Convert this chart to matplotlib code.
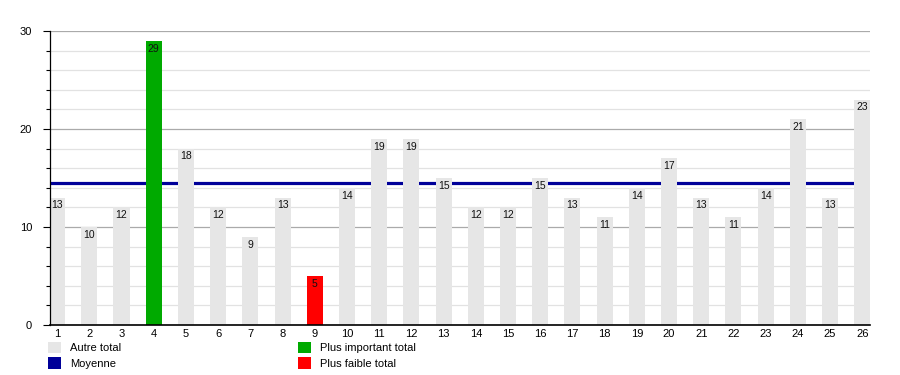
import numpy as np
import matplotlib
matplotlib.use("Agg")
import matplotlib.pyplot as plt
from matplotlib.patches import Patch
from matplotlib.ticker import MultipleLocator

# ── Data ──────────────────────────────────────────────────────────────────────
categories = list(range(1, 27))
totals = [13, 10, 12, 29, 18, 12, 9, 13, 5, 14, 19, 19, 15, 12, 12, 15, 13, 11,
          14, 17, 13, 11, 14, 21, 13, 23]
legend_labels = ["Autre total", "Moyenne", "Plus important total", "Plus faible total"]

GRAY  = "#e6e6e6"
GREEN = "#00aa00"
RED   = "#ff0000"
NAVY  = "#000099"

plt.rcParams.update({
    "font.family": "Liberation Sans",
    "font.size":   8,
})

mean_val = np.mean(totals)
imax = int(np.argmax(totals))
imin = int(np.argmin(totals))
colors = [GRAY] * len(totals)
colors[imax] = GREEN
colors[imin] = RED

fig = plt.figure(figsize=(9, 3.75), dpi=100)
ax = fig.add_axes([0.0556, 0.1333, 0.9114, 0.7837])

ax.set_ylim(0, 30)
ax.set_xlim(0.78, 26.25)
ax.yaxis.set_major_locator(MultipleLocator(10))
ax.yaxis.set_minor_locator(MultipleLocator(2))
ax.grid(which="major", axis="y", color="#aaaaaa", lw=0.9, zorder=0)
ax.grid(which="minor", axis="y", color="#e2e2e2", lw=0.9, zorder=0)
ax.set_axisbelow(True)

ax.axhline(mean_val, color=NAVY, lw=2.3, zorder=1)
bars = ax.bar(categories, totals, width=0.5, color=colors, zorder=2)

for x, v in zip(categories, totals):
    ax.annotate(str(v), (x, v), xytext=(0, -2), textcoords="offset points",
                ha="center", va="top", fontsize=7.5, color="#111111", zorder=3)

ax.set_xticks(categories)
ax.tick_params(axis="x", length=0, pad=3)
ax.tick_params(axis="y", which="major", length=5, width=0.8, pad=8)
ax.tick_params(axis="y", which="minor", length=3, width=0.8)
for s in ["top", "right"]:
    ax.spines[s].set_visible(False)
ax.spines["left"].set_linewidth(0.9)
ax.spines["bottom"].set_linewidth(1.2)

handles = [
    Patch(facecolor=GRAY, label=legend_labels[0]),
    Patch(facecolor=NAVY, label=legend_labels[1]),
    Patch(facecolor=GREEN, label=legend_labels[2]),
    Patch(facecolor=RED, label=legend_labels[3]),
]
fig.legend(handles=handles, ncol=2, loc="upper left",
           bbox_to_anchor=(0.053, 0.088), frameon=False,
           handlelength=1.2, handleheight=1.2, handletextpad=0.8,
           labelspacing=0.35, columnspacing=15.9, borderpad=0, borderaxespad=0)

fig.savefig("out.png", dpi=100)
